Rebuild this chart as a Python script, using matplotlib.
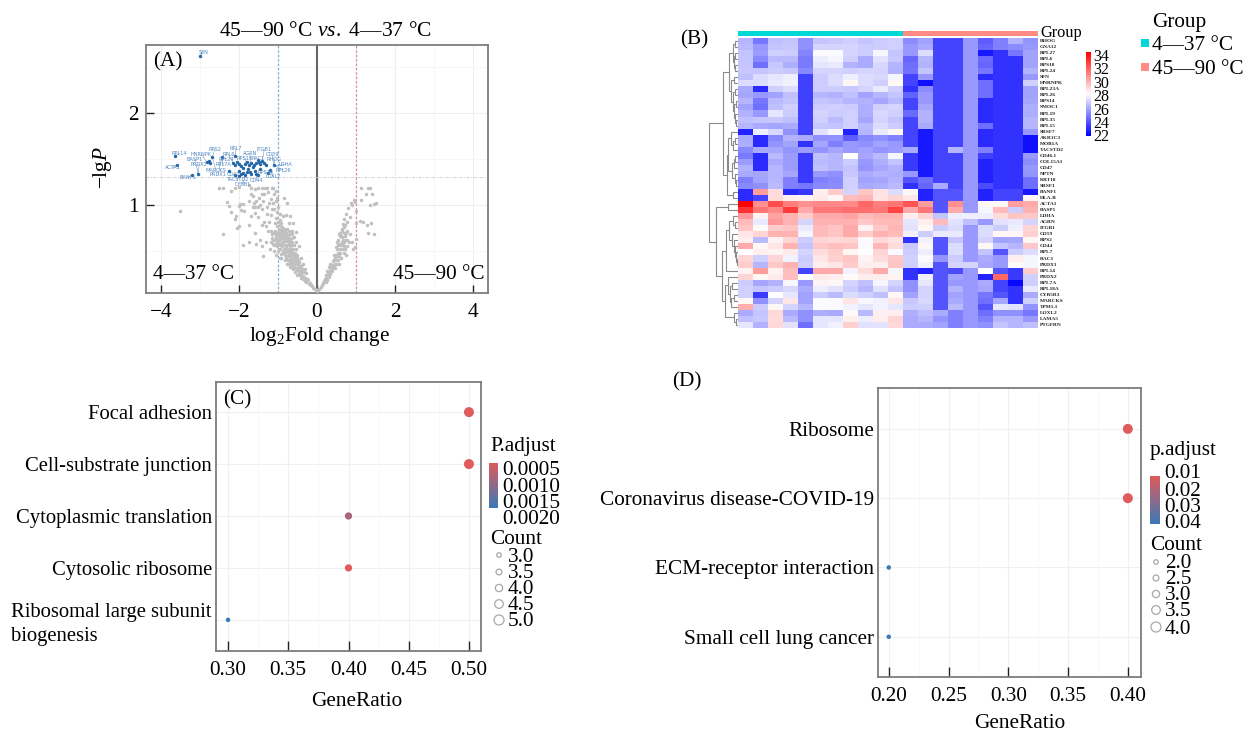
import numpy as np
import matplotlib
matplotlib.use("Agg")
import matplotlib.pyplot as plt
from matplotlib.colors import LinearSegmentedColormap, Normalize
from matplotlib.transforms import ScaledTranslation

# Fonts
plt.rcParams['font.family'] = ['Liberation Serif', 'DejaVu Serif']
plt.rcParams['mathtext.fontset'] = 'custom'
plt.rcParams['mathtext.rm'] = 'Liberation Serif'
plt.rcParams['mathtext.it'] = 'Liberation Serif:italic'

# Panel A data (log2 fold change, -lg P)
grey_points = [
    (0.0, 0.07), (-0.03, 0.08), (0.03, 0.08), (-0.06, 0.09), (0.06, 0.09), (-0.09, 0.1), (0.09, 0.11), (-0.12, 0.12),
    (0.12, 0.13), (-0.15, 0.13), (0.15, 0.15), (-0.18, 0.15), (0.18, 0.17), (-0.2, 0.14), (-0.22, 0.18), (0.2, 0.2),
    (-0.25, 0.19), (-0.27, 0.16), (0.24, 0.21), (0.22, 0.16), (-0.3, 0.21), (-0.32, 0.17), (0.27, 0.25), (0.26, 0.18),
    (-0.35, 0.23), (-0.37, 0.19), (0.3, 0.28), (0.32, 0.22), (-0.38, 0.27), (-0.41, 0.21), (0.33, 0.25), (0.35, 0.31),
    (-0.42, 0.3), (-0.44, 0.24), (0.37, 0.28), (0.38, 0.35), (-0.46, 0.33), (-0.47, 0.26), (0.4, 0.31), (0.42, 0.39),
    (-0.49, 0.36), (-0.51, 0.29), (0.43, 0.33), (0.45, 0.42), (-0.53, 0.39), (-0.54, 0.31), (0.46, 0.36), (0.48, 0.46),
    (-0.56, 0.42), (-0.58, 0.33), (0.5, 0.4), (0.5, 0.52), (-0.59, 0.46), (-0.61, 0.36), (0.53, 0.44), (0.53, 0.56),
    (-0.63, 0.49), (-0.64, 0.39), (0.55, 0.48), (0.55, 0.62), (-0.66, 0.52), (-0.67, 0.42), (0.58, 0.52), (0.58, 0.66),
    (-0.69, 0.55), (-0.7, 0.44), (0.6, 0.56), (0.6, 0.7), (-0.72, 0.58), (-0.73, 0.47), (0.63, 0.6), (0.63, 0.74),
    (-0.75, 0.61), (-0.76, 0.5), (0.65, 0.65), (0.66, 0.79), (-0.78, 0.64), (-0.8, 0.53), (0.68, 0.7), (0.7, 0.85),
    (-0.82, 0.67), (-0.83, 0.56), (0.72, 0.78), (0.75, 0.9), (-0.85, 0.7), (-0.86, 0.6), (0.78, 0.82), (0.8, 0.97),
    (-0.88, 0.65), (-0.9, 0.55), (0.85, 0.87), (0.88, 1.02), (-0.92, 0.7), (-0.94, 0.62), (0.9, 0.6), (0.92, 0.52),
    (-0.96, 0.66), (-0.98, 0.58), (0.98, 1.03), (1.0, 0.93), (-1.0, 0.7), (-1.02, 0.61), (0.98, 0.54), (1.0, 0.63),
    (-0.55, 0.52), (-0.6, 0.56), (-0.65, 0.6), (-0.7, 0.63), (-0.75, 0.67), (-0.8, 0.7), (-0.85, 0.74), (-0.62, 0.46),
    (-0.68, 0.5), (-0.77, 0.57), (-0.84, 0.63), (-0.5, 0.43), (-0.45, 0.38), (-0.4, 0.34), (-0.9, 0.76), (-0.95, 0.78),
    (-1.05, 0.66), (-1.08, 0.62), (-1.1, 0.7), (-1.02, 0.77), (-0.98, 0.74), (-0.92, 0.8), (-0.72, 0.72), (-0.63, 0.72),
    (-0.58, 0.65), (-0.53, 0.6), (-0.47, 0.55), (-0.42, 0.42), (-0.36, 0.36), (-0.31, 0.3), (-0.28, 0.26), (-0.78, 0.74),
    (-1.15, 0.64), (-1.2, 0.52), (-1.0, 0.5), (-0.95, 0.42), (-0.88, 0.48), (-0.78, 0.45), (-1.1, 0.56), (-0.7, 0.38),
    (-1.0, 0.82), (-1.05, 0.86), (-1.02, 0.92), (-0.96, 0.84), (-1.08, 0.8), (-0.95, 0.9), (-0.88, 0.88), (-0.8, 0.89),
    (-1.1, 0.96), (-1.18, 0.89), (-1.28, 0.9), (-1.35, 0.82), (-1.42, 0.78), (-1.3, 0.77), (-1.5, 0.87), (-1.58, 0.7),
    (-1.45, 0.62), (-1.55, 0.58), (-1.4, 0.55), (-1.3, 0.6), (-1.38, 0.45), (-1.25, 0.72), (-1.22, 0.82), (-1.75, 0.6),
    (-1.9, 0.57), (-2.05, 0.75), (-1.75, 0.78), (-2.4, 0.68), (-3.5, 0.93), (-2.1, 0.85), (-2.08, 0.88), (-2.0, 0.77),
    (-2.2, 0.92), (-2.3, 1.03), (-2.25, 0.99), (-2.0, 0.99), (-1.98, 1.01), (-1.9, 1.01), (-1.88, 0.94), (-1.95, 0.95),
    (-1.68, 0.88), (-1.6, 0.91), (-1.65, 1.1), (-1.62, 1.02), (-1.55, 1.04), (-1.5, 0.98), (-1.42, 0.96), (-1.38, 1.04),
    (-1.65, 0.98), (-1.58, 0.98), (-1.48, 1.08), (-1.45, 1.0), (-1.35, 1.12), (-1.28, 0.98), (-1.22, 1.02), (-1.18, 1.06),
    (-1.15, 0.96), (-1.12, 1.02), (-1.05, 1.04), (-1.05, 1.15), (-1.02, 1.08), (-1.1, 1.12), (-1.25, 1.14), (-1.0, 0.98),
    (-1.4, 1.12), (-1.58, 1.17), (-1.52, 1.18), (-1.42, 1.18), (-1.32, 1.18), (-1.28, 1.18), (-1.15, 1.18), (-1.12, 1.18),
    (-2.5, 1.19), (-2.42, 1.19), (-2.1, 1.18), (-2.0, 1.2), (-1.75, 1.22), (-1.68, 1.19), (-0.78, 1.02), (-0.85, 1.08),
    (-0.68, 0.88), (-0.62, 0.8), (-0.55, 0.71), (-2.2, 1.15), (-0.72, 0.8), (-0.65, 0.68), (-1.7, 1.12), (-1.75, 1.04),
    (0.95, 1.05), (0.9, 1.0), (1.12, 1.18), (1.13, 1.05), (1.25, 1.12), (1.35, 1.19), (1.3, 1.18), (1.45, 1.01),
    (1.35, 1.0), (1.42, 1.12), (1.5, 1.02), (1.1, 0.83), (1.0, 0.8), (1.18, 0.82), (1.28, 0.78), (1.3, 0.7),
    (1.38, 0.8), (1.45, 0.68), (0.72, 0.62), (0.78, 0.72), (0.85, 0.68), (0.7, 0.55), (0.78, 0.55), (0.82, 0.6),
]

# the thick part of the two arms of the V
grey_dense = [
    (-0.52, 0.24), (-0.57, 0.27), (-0.62, 0.3), (-0.66, 0.33), (-0.71, 0.36), (-0.74, 0.4), (-0.79, 0.42), (-0.83, 0.46),
    (-0.87, 0.5), (-0.92, 0.47), (-0.96, 0.52), (-0.9, 0.59), (-1.03, 0.55), (-1.06, 0.58), (-1.12, 0.62), (-1.14, 0.68),
    (-1.17, 0.72), (-1.08, 0.72), (-1.04, 0.7), (-0.99, 0.63), (-0.94, 0.67), (-0.89, 0.71), (-0.86, 0.66), (-0.81, 0.61),
    (-0.76, 0.56), (-0.71, 0.52), (-0.67, 0.47), (-0.6, 0.42), (-0.55, 0.36), (-0.5, 0.32), (-0.45, 0.28), (-0.4, 0.26),
    (-0.34, 0.27), (-0.39, 0.3), (-0.44, 0.34), (-0.48, 0.4), (-0.52, 0.46), (-0.57, 0.48), (-0.61, 0.52), (-0.64, 0.56),
    (-0.68, 0.59), (-0.73, 0.62), (-0.77, 0.61), (-0.81, 0.66), (-0.84, 0.69), (-0.88, 0.73), (-0.93, 0.73), (-0.97, 0.7),
    (-1.01, 0.67), (-1.06, 0.64), (-0.91, 0.64), (-0.83, 0.72), (-0.79, 0.68), (-0.74, 0.65), (-0.69, 0.68), (-0.64, 0.64),
    (-1.0, 0.59), (-0.95, 0.56), (-0.85, 0.52), (-0.8, 0.49), (-0.74, 0.44), (-0.69, 0.4), (-0.63, 0.36), (-0.58, 0.39),
    (-1.13, 0.58), (-1.18, 0.6), (-1.09, 0.5), (-1.04, 0.46), (-0.91, 0.42), (-0.83, 0.4), (-0.77, 0.36), (-0.7, 0.33),
    (0.22, 0.24), (0.26, 0.28), (0.3, 0.33), (0.34, 0.36), (0.38, 0.28), (0.41, 0.35), (0.44, 0.4), (0.47, 0.32),
    (0.5, 0.36), (0.54, 0.4), (0.57, 0.44), (0.6, 0.48), (0.63, 0.52), (0.66, 0.56), (0.69, 0.6), (0.72, 0.66),
    (0.68, 0.48), (0.72, 0.52), (0.75, 0.46), (0.62, 0.42), (0.56, 0.36), (0.48, 0.54), (0.52, 0.6), (0.56, 0.68),
    (0.62, 0.66), (0.65, 0.72), (0.7, 0.76), (0.74, 0.7), (0.76, 0.62), (0.66, 0.62), (0.58, 0.58), (0.44, 0.46),
]

blue_points = [
    (-3.0, 2.62), (-3.64, 1.53), (-3.59, 1.44), (-3.2, 1.33), (-3.04, 1.34), (-2.68, 1.52), (-2.83, 1.47), (-2.74, 1.46),
    (-2.77, 1.48), (-2.44, 1.52), (-2.1, 1.53), (-2.15, 1.46), (-2.1, 1.43), (-2.05, 1.47), (-2.0, 1.45), (-1.95, 1.42),
    (-1.85, 1.45), (-1.8, 1.47), (-1.75, 1.44), (-1.7, 1.46), (-1.62, 1.43), (-1.55, 1.46), (-1.5, 1.49), (-1.48, 1.47),
    (-1.45, 1.45), (-1.4, 1.48), (-1.35, 1.46), (-1.3, 1.44), (-2.0, 1.37), (-1.9, 1.35), (-1.85, 1.33), (-1.8, 1.36),
    (-1.78, 1.39), (-1.72, 1.36), (-1.6, 1.37), (-1.55, 1.34), (-1.5, 1.33), (-1.25, 1.35), (-1.1, 1.43), (-1.9, 1.4),
    (-2.25, 1.37), (-2.1, 1.33), (-1.95, 1.34), (-2.0, 1.32), (-1.7, 1.34), (-1.65, 1.41), (-1.45, 1.39), (-1.2, 1.38),
]

gene_labels = ["SFN", "RPL14", "ACTA1", "BANF1", "HNRNPK", "BASP1", "PRDX2", "RPS2", "RPL6", "RPL7", "AGRN", "ITGB1", "CD59", "RHOG",
               "LDHA", "RPL26", "RPL7A", "MARCKS", "PRDX1", "CD47", "TACSTD2", "CD44", "CYBB1", "RPS14", "LOXL2", "RPS18", "RAC1", "RPL24"]
label_x = [-2.9, -3.53, -3.7, -3.3, -2.96, -3.13, -3.02, -2.62, -2.27, -2.08, -1.72, -1.35, -1.15, -1.09,
           -0.82, -0.86, -2.4, -2.59, -2.53, -2.15, -2.04, -1.56, -1.89, -1.33, -1.12, -1.85, -1.5, -2.32]
label_y = [2.66, 1.56, 1.41, 1.3, 1.55, 1.5, 1.44, 1.605, 1.55, 1.61, 1.56, 1.605, 1.55, 1.5,
           1.44, 1.38, 1.44, 1.38, 1.33, 1.33, 1.275, 1.27, 1.22, 1.355, 1.31, 1.51, 1.51, 1.5]

# Panel B data
genes = ["RHOG", "GNA12", "RPL27", "RPL6", "RPS18", "RPL24", "SFN", "HNRNPK", "RPL23A", "RPL26", "RPS14", "SMOC1", "RPL19", "RPL35",
         "RPL15", "SRSF7", "AKR1C3", "MOB1A", "TACSTD2", "CD46.1", "COL15A1", "CD47", "NPTN", "KRT18", "SRSF1", "BANF1", "HLA-B",
         "ACTA1", "BASP1", "LDHA", "AGRN", "ITGB1", "CD59", "RPS2", "CD44", "RPL7", "RAC1", "PRDX1", "RPL14", "PRDX2", "RPL7A",
         "RPL18A", "CYB5R3", "MARCKS", "TPM1.1", "LOXL2", "LAMA5", "PTGFRN"]
heat = [
    [26.3, 24.8, 26.5, 26.6, 25.4, 26.6, 26.7, 26.9, 26.6, 26.8, 26.9, 25.3, 25.8, 23.6, 23.6, 25.6, 24.2, 25.0, 26.2, 25.5],
    [26.4, 25.6, 26.6, 26.7, 25.4, 27.0, 27.0, 27.0, 26.8, 26.8, 26.9, 25.6, 26.0, 23.6, 23.6, 25.6, 24.4, 25.0, 25.3, 25.6],
    [26.6, 25.7, 26.9, 26.8, 25.1, 27.9, 27.9, 27.0, 26.8, 27.8, 26.6, 25.6, 27.2, 23.6, 23.6, 25.6, 22.6, 23.2, 24.8, 25.8],
    [26.6, 25.2, 26.4, 26.4, 24.9, 27.6, 27.8, 26.9, 26.0, 27.3, 26.7, 24.4, 26.3, 23.6, 23.6, 25.6, 24.5, 23.2, 23.2, 25.8],
    [26.6, 24.6, 26.7, 26.1, 24.9, 27.4, 27.5, 26.2, 26.0, 27.1, 26.3, 24.6, 26.2, 23.6, 23.6, 25.6, 24.4, 23.2, 23.2, 25.8],
    [26.7, 26.6, 26.8, 26.7, 25.2, 27.0, 27.0, 26.9, 27.0, 27.0, 26.2, 24.7, 26.6, 23.6, 23.6, 25.6, 24.8, 23.2, 23.2, 26.2],
    [26.5, 27.2, 27.4, 27.6, 23.5, 26.8, 27.2, 27.6, 27.2, 27.1, 27.8, 23.6, 25.6, 23.6, 23.6, 25.6, 23.0, 23.2, 23.2, 25.6],
    [27.2, 27.2, 27.5, 27.7, 23.5, 26.8, 27.2, 28.2, 27.2, 26.9, 28.2, 23.6, 22.4, 23.6, 23.6, 25.6, 24.6, 23.2, 23.2, 26.9],
    [26.0, 23.0, 26.9, 27.2, 23.5, 26.8, 26.8, 26.7, 27.0, 27.5, 26.9, 23.2, 25.3, 23.6, 23.6, 25.6, 24.6, 23.2, 23.2, 25.8],
    [25.9, 25.6, 25.8, 26.5, 23.5, 26.3, 26.2, 26.5, 25.8, 26.3, 26.6, 24.3, 25.6, 23.6, 23.6, 25.6, 24.6, 23.2, 23.2, 25.8],
    [26.3, 24.8, 26.4, 26.6, 23.5, 26.6, 26.5, 26.3, 26.2, 25.9, 26.4, 23.6, 25.6, 23.6, 23.6, 25.6, 23.0, 23.2, 23.2, 25.9],
    [25.8, 24.6, 26.5, 26.9, 23.5, 26.8, 26.9, 26.8, 26.1, 26.9, 27.0, 23.6, 25.9, 23.6, 23.6, 25.6, 23.0, 23.2, 23.2, 26.1],
    [26.2, 25.6, 27.4, 26.8, 23.5, 27.0, 26.8, 26.9, 26.1, 27.1, 26.9, 24.5, 26.2, 23.6, 23.6, 25.6, 23.0, 23.2, 23.2, 26.1],
    [26.5, 26.6, 26.7, 26.5, 23.5, 26.9, 26.4, 26.9, 25.9, 27.0, 26.6, 23.6, 26.2, 23.6, 23.6, 25.6, 23.0, 23.2, 23.2, 26.3],
    [26.3, 26.0, 25.9, 26.0, 23.5, 26.7, 26.6, 26.9, 26.4, 27.2, 26.8, 23.6, 26.0, 23.6, 23.6, 25.6, 24.6, 23.2, 23.2, 26.3],
    [22.8, 27.6, 27.1, 25.4, 23.5, 27.3, 27.8, 22.8, 26.3, 27.5, 28.2, 23.6, 22.6, 23.6, 23.6, 25.6, 23.0, 23.2, 23.2, 25.6],
    [26.0, 23.0, 25.2, 26.2, 26.0, 25.4, 25.4, 24.2, 25.2, 25.4, 25.0, 23.6, 22.6, 23.6, 23.6, 25.6, 23.0, 23.2, 23.2, 22.4],
    [26.1, 23.0, 25.5, 25.8, 23.2, 25.9, 25.0, 25.6, 25.4, 25.8, 25.6, 23.6, 22.6, 23.6, 23.6, 25.6, 23.0, 23.2, 23.2, 22.4],
    [25.2, 26.0, 25.9, 25.5, 25.7, 25.5, 25.9, 25.6, 25.8, 25.5, 25.7, 26.0, 22.6, 23.6, 26.3, 25.6, 25.0, 23.2, 23.2, 22.4],
    [24.9, 23.0, 26.4, 25.7, 23.4, 26.5, 26.3, 28.0, 25.9, 26.4, 27.8, 23.4, 22.6, 23.6, 23.6, 25.6, 23.5, 23.2, 23.2, 25.6],
    [25.7, 23.0, 26.0, 25.7, 23.4, 26.4, 26.3, 26.8, 25.6, 26.1, 26.6, 23.4, 22.6, 23.6, 23.6, 25.6, 22.8, 23.2, 23.2, 25.3],
    [26.2, 23.0, 26.3, 25.7, 23.4, 26.5, 26.3, 26.6, 25.5, 25.9, 26.2, 23.4, 22.6, 23.6, 23.6, 25.6, 22.8, 23.2, 23.2, 25.6],
    [26.0, 25.9, 26.3, 25.9, 23.4, 25.6, 25.4, 26.7, 26.0, 26.2, 26.1, 25.6, 22.6, 23.6, 23.6, 25.6, 22.8, 23.2, 23.2, 25.5],
    [25.0, 25.8, 26.3, 25.0, 23.4, 25.0, 25.2, 26.9, 25.8, 25.9, 26.2, 24.0, 24.6, 23.6, 23.6, 25.6, 22.8, 23.2, 23.2, 24.6],
    [25.2, 25.4, 26.4, 25.0, 24.8, 25.2, 25.3, 26.9, 26.0, 26.1, 26.4, 23.2, 24.4, 26.0, 23.6, 25.6, 23.8, 23.2, 23.2, 24.6],
    [23.0, 30.3, 28.8, 23.0, 23.3, 28.4, 29.2, 27.0, 29.4, 28.7, 27.2, 28.2, 22.8, 24.0, 24.0, 25.6, 22.8, 23.6, 23.6, 22.6],
    [23.0, 23.6, 28.8, 28.4, 28.3, 28.5, 28.2, 29.5, 29.7, 28.7, 29.0, 28.6, 22.8, 24.0, 24.0, 25.6, 22.8, 23.6, 23.6, 28.2],
    [34.0, 30.6, 32.2, 31.0, 30.6, 30.8, 30.8, 30.8, 31.6, 31.0, 31.2, 32.0, 30.3, 24.0, 30.6, 25.6, 28.2, 28.2, 30.3, 30.0],
    [32.8, 31.2, 30.8, 32.6, 30.0, 31.2, 31.2, 31.4, 31.4, 31.2, 32.4, 30.0, 31.2, 24.0, 30.0, 25.6, 27.8, 29.6, 26.8, 29.8],
    [30.4, 28.3, 30.2, 29.8, 29.2, 30.0, 30.0, 30.2, 29.6, 29.8, 29.8, 28.4, 29.0, 26.6, 27.6, 27.6, 27.6, 28.8, 29.4, 29.3],
    [29.6, 27.5, 30.4, 29.8, 27.0, 29.8, 29.8, 29.8, 29.3, 29.6, 29.6, 27.4, 28.4, 29.6, 27.3, 26.5, 25.6, 27.3, 27.5, 27.0],
    [29.4, 28.1, 29.2, 29.4, 27.5, 29.6, 29.4, 30.0, 28.3, 29.3, 29.7, 27.3, 28.2, 26.8, 27.2, 25.6, 27.2, 26.8, 27.6, 29.0],
    [28.6, 29.0, 29.8, 29.8, 27.8, 29.6, 29.4, 30.0, 29.2, 29.8, 29.6, 27.7, 26.8, 27.5, 27.5, 25.6, 27.2, 28.2, 28.2, 29.1],
    [28.4, 26.4, 28.3, 29.0, 26.8, 29.0, 28.9, 29.0, 27.9, 28.9, 28.7, 23.2, 27.7, 24.0, 26.6, 25.6, 27.0, 25.8, 25.9, 28.2],
    [30.0, 28.2, 28.6, 29.8, 26.6, 29.3, 29.5, 29.4, 27.9, 29.7, 28.8, 26.7, 28.2, 24.0, 27.2, 25.6, 28.2, 26.6, 26.3, 29.3],
    [28.0, 28.4, 28.3, 28.5, 27.0, 28.8, 29.2, 28.2, 28.0, 29.0, 27.9, 26.8, 27.6, 24.0, 27.2, 25.6, 26.6, 24.0, 26.8, 27.2],
    [29.0, 26.9, 29.0, 27.7, 26.8, 28.6, 29.1, 29.4, 28.3, 28.8, 29.3, 26.9, 27.9, 25.5, 26.8, 25.6, 26.0, 25.6, 28.4, 27.8],
    [29.2, 26.3, 29.3, 29.8, 26.9, 28.4, 28.6, 29.2, 28.4, 28.4, 29.4, 26.9, 27.7, 24.0, 27.0, 27.0, 25.9, 25.6, 28.1, 27.8],
    [28.3, 30.3, 28.3, 29.5, 23.6, 30.0, 30.0, 27.7, 28.8, 30.0, 27.8, 23.2, 22.8, 24.0, 23.8, 25.6, 28.0, 24.0, 23.4, 29.2],
    [29.0, 28.2, 28.5, 29.5, 28.0, 28.5, 28.4, 28.1, 28.4, 28.4, 28.3, 23.2, 27.6, 24.0, 25.8, 25.6, 22.8, 31.6, 23.4, 26.9],
    [26.8, 25.9, 26.2, 27.8, 25.6, 28.3, 28.2, 27.0, 26.5, 27.8, 27.0, 25.4, 27.4, 24.0, 25.6, 25.6, 26.0, 23.6, 22.2, 26.9],
    [26.9, 26.6, 26.8, 27.1, 26.0, 27.6, 27.3, 26.8, 26.3, 27.3, 26.6, 25.4, 27.0, 24.0, 26.2, 25.6, 25.9, 23.6, 23.2, 27.5],
    [26.9, 23.4, 28.0, 27.4, 25.8, 26.8, 26.4, 27.2, 26.9, 26.5, 28.2, 25.8, 27.0, 24.0, 25.8, 25.6, 24.8, 24.0, 23.2, 26.0],
    [28.2, 25.4, 27.0, 28.6, 25.8, 27.9, 27.9, 28.6, 27.8, 27.7, 28.6, 26.7, 27.1, 24.0, 26.0, 25.6, 24.6, 25.9, 23.2, 26.9],
    [29.9, 26.8, 28.2, 27.0, 26.3, 27.9, 27.9, 27.7, 27.4, 27.7, 27.4, 26.8, 26.9, 24.0, 26.4, 25.6, 24.0, 27.4, 27.3, 25.5],
    [26.0, 26.6, 28.9, 26.0, 25.4, 26.1, 26.0, 28.1, 26.4, 28.4, 28.4, 26.1, 26.5, 26.0, 25.0, 25.6, 24.6, 25.4, 25.4, 24.8],
    [26.5, 26.7, 28.8, 26.4, 25.4, 27.4, 27.4, 28.4, 27.6, 28.4, 29.0, 26.0, 26.3, 25.5, 25.0, 25.6, 25.0, 26.3, 26.3, 25.6],
    [27.4, 26.2, 28.9, 27.3, 24.6, 27.4, 27.7, 29.1, 27.3, 27.3, 28.9, 26.0, 26.0, 25.8, 25.0, 25.6, 25.4, 26.6, 26.3, 26.5],
]
n_group1 = 11
n_group2 = 9

# row clustering as (height, left, right), leaves are row numbers
tree_a = (9, (5, (3, 0, 1), (4, (3, 2, 3), (3, 4, 5))),
          (7, (4, 6, 7), (5, (3, 8, 9), (4, (2, 10, 11), (3, 12, (2, 13, 14))))))
tree_b = (10, (7, 15, (5, (3, 16, 17), 18)), (6, (4, (3, 19, 20), 21), (3, 22, (2, 23, 24))))
tree_c = (11, tree_b, (5, 25, 26))
tree_d = (12, (9, (5, 29, (3, 30, 31)), (6, 32, (4, 33, (3, 34, (2, 35, (1, 36, 37)))))), 38)
tree_e = (13, (10, 39, (8, (6, 40, 41), (7, (4, 42, 43), 44))), (4, 45, (2, 46, 47)))
tree_root = (29, (15, tree_a, tree_c), (22, (10, 27, 28), (16, tree_d, tree_e)))

# Panel C and D data
c_terms = ["Focal adhesion", "Cell-substrate junction", "Cytoplasmic translation", "Cytosolic ribosome", "Ribosomal large subunit\nbiogenesis"]
c_ratio = [0.5, 0.5, 0.4, 0.4, 0.3]
c_padj = [0.0005, 0.0005, 0.0010, 0.0005, 0.0020]
c_count = [5, 5, 4, 4, 3]
c_xticks = [0.30, 0.35, 0.40, 0.45, 0.50]
c_padj_ticks = ["0.0005", "0.0010", "0.0015", "0.0020"]
c_count_ticks = ["3.0", "3.5", "4.0", "4.5", "5.0"]

d_terms = ["Ribosome", "Coronavirus disease-COVID-19", "ECM-receptor interaction", "Small cell lung cancer"]
d_ratio = [0.4, 0.4, 0.2, 0.2]
d_padj = [0.01, 0.01, 0.04, 0.04]
d_count = [4, 4, 2, 2]
d_xticks = [0.20, 0.25, 0.30, 0.35, 0.40]
d_padj_ticks = ["0.01", "0.02", "0.03", "0.04"]
d_count_ticks = ["2.0", "2.5", "3.0", "3.5", "4.0"]

W, H = 1243, 730
fig = plt.figure(figsize=(W / 100, H / 100), dpi=100)
GREY = "#7d7d7d"
FS = 15.3


def px_axes(left, top, right, bottom):
    return fig.add_axes([left / W, 1 - bottom / H, (right - left) / W, (bottom - top) / H])


def px_text(x, y, s, size=FS, ha="left", **kw):
    # 2 px lower because va=center counts the descender space
    return fig.text(x / W, 1 - (y + 2) / H, s, fontsize=size, ha=ha, va="center", **kw)


def frame(ax):
    for side in ax.spines:
        ax.spines[side].set_color(GREY)
        ax.spines[side].set_linewidth(1.3)


# Panel A
ax = px_axes(146, 45, 488, 293)
grey_x, grey_y = zip(*(grey_points + grey_dense))
blue_x, blue_y = zip(*blue_points)
ax.scatter(grey_x, grey_y, s=6.5, color="#c0c0c0", linewidths=0, zorder=3)
ax.scatter(blue_x, blue_y, s=6, color="#2466a8", linewidths=0, zorder=4)
for i in range(len(gene_labels)):
    # connect each label to the closest point
    dist = [(label_x[i] - p[0]) ** 2 + (label_y[i] - p[1]) ** 2 for p in blue_points]
    p = blue_points[int(np.argmin(dist))]
    ax.plot([label_x[i], p[0]], [label_y[i], p[1]], color="#6f9cc8", lw=0.4, zorder=3)
    ax.text(label_x[i], label_y[i], gene_labels[i], fontsize=3.6, color="#4f86bd", ha="center", va="center",
            family="DejaVu Sans", zorder=5)
ax.axvline(0, color="#666666", lw=1.5, zorder=2)
ax.axvline(-1, color="#86aecb", lw=0.9, ls=(0, (2, 1.5)), zorder=2)
ax.axvline(1, color="#d98c9a", lw=0.9, ls=(0, (2, 1.5)), zorder=2)
ax.axhline(1.3, color="#cfcfcf", lw=0.7, ls=(0, (3, 1.5, 1, 1.5)), zorder=2)
ax.set_xlim(-4.38, 4.38)
ax.set_ylim(0.043, 2.74)
ax.set_xticks([-4, -2, 0, 2, 4])
ax.set_xticklabels(["−4", "−2", "0", "2", "4"])
ax.set_yticks([1, 2])
ax.set_yticks([0.5, 1.5, 2.5], minor=True)
ax.set_xticks([-3, -1, 1, 3], minor=True)
ax.grid(True, which="major", color="#eeeeee", lw=0.8)
ax.grid(True, which="minor", color="#f6f6f6", lw=0.6)
ax.set_axisbelow(True)
ax.tick_params(axis="both", which="major", direction="in", length=6, width=1, labelsize=FS, color="#222222", pad=7)
ax.tick_params(axis="y", which="major", pad=5)
ax.tick_params(axis="both", which="minor", length=0)
frame(ax)
px_text(325, 30, "45—90 °C $\\mathit{vs.}$ 4—37 °C", size=15.5, ha="center")
px_text(320, 335, "log$_2$Fold change", ha="center")
px_text(103, 166, "$-$lg$\\mathit{P}$", ha="center", rotation=90)
px_text(153, 60, "(A)")
px_text(153, 273, "4—37 °C")
px_text(393, 273, "45—90 °C")

# Panel B
heat_cmap = LinearSegmentedColormap.from_list("bwr_heat", ["#0000ff", "#ffffff", "#ff0000"])
heat = np.array(heat)
ax = px_axes(738.3, 38, 1038, 328)
ax.pcolormesh(heat, cmap=heat_cmap, vmin=22, vmax=34)
ax.set_ylim(len(genes), 0)
ax.axis("off")
for i, gene in enumerate(genes):
    px_text(1040, 36 + (i + 0.5) * 290 / len(genes), gene, size=3.9, weight="bold", color="#222222")

ax = px_axes(738.3, 30.7, 1038, 36)
ax.barh([0], [n_group1], color="#00d8d8", height=1)
ax.barh([0], [n_group2], left=[n_group1], color="#ff8c84", height=1)
ax.set_xlim(0, n_group1 + n_group2)
ax.set_ylim(-0.5, 0.5)
ax.axis("off")
px_text(1040, 31, "Group", size=11.8)

ax = px_axes(706, 38, 738.3, 328)


def draw_tree(node):
    # returns (row position, height) of a node
    if not isinstance(node, tuple):
        return node + 0.5, 0
    y1, h1 = draw_tree(node[1])
    y2, h2 = draw_tree(node[2])
    ax.plot([h1, node[0], node[0], h2], [y1, y1, y2, y2], color="#8a8a8a", lw=0.8, solid_joinstyle="miter")
    return (y1 + y2) / 2, node[0]


draw_tree(tree_root)
ax.set_xlim(32.3, 0)
ax.set_ylim(len(genes), 0)
ax.axis("off")

cb = px_axes(1086, 52, 1091, 136)
cb.imshow(np.linspace(34, 22, 200).reshape(-1, 1), cmap=heat_cmap, vmin=22, vmax=34, aspect="auto")
cb.axis("off")
for i, lab in enumerate(["34", "32", "30", "28", "26", "24", "22"]):
    px_text(1093, 55 + i * 13.4, lab, size=11.5)

px_text(680, 38, "(B)")
px_text(1152, 21, "Group")
legend_ax = px_axes(0, 0, W, H)
legend_ax.set_xlim(0, W)
legend_ax.set_ylim(H, 0)
legend_ax.axis("off")
legend_ax.patch.set_alpha(0)
legend_ax.add_patch(plt.Rectangle((1141, 39), 8, 8, color="#00d8d8", lw=0))
legend_ax.add_patch(plt.Rectangle((1141, 63), 8, 8, color="#ff8c84", lw=0))
px_text(1152, 43, "4—37 °C")
px_text(1152, 67, "45—90 °C")

# Panels C and D
dot_cmap = LinearSegmentedColormap.from_list("padj", ["#e05b5b", "#3a7ab8"])


def dot_panel(box, xlim, ylim, terms, ratio, padj, count, xticks, count_range, padj_range, term_size):
    ax = px_axes(*box)
    ypos = np.arange(len(terms), 0, -1)
    diam = np.interp(count, count_range, [4.5, 10])
    ax.scatter(ratio, ypos, s=(diam * 0.72) ** 2, c=padj, cmap=dot_cmap,
               norm=Normalize(*padj_range), linewidths=0, zorder=3)
    ax.set_xlim(*xlim)
    ax.set_ylim(*ylim)
    ax.set_xticks(xticks)
    ax.set_xticklabels(["%.2f" % t for t in xticks])
    ax.set_xticks([(a + b) / 2 for a, b in zip(xticks[:-1], xticks[1:])], minor=True)
    ax.set_yticks(ypos)
    ax.set_yticklabels(terms, fontsize=term_size, linespacing=1.3)
    for lab in ax.get_yticklabels():
        lab.set_multialignment("left")
        # two line label sits lower than its row, the others a bit higher
        shift = -6 if "\n" in lab.get_text() else 2
        lab.set_transform(lab.get_transform() + ScaledTranslation(0, shift / 100, fig.dpi_scale_trans))
    ax.grid(True, which="major", color="#f0f0f0", lw=0.8)
    ax.grid(True, which="minor", axis="x", color="#f6f6f6", lw=0.6)
    ax.set_axisbelow(True)
    ax.tick_params(axis="x", which="major", direction="in", length=7, width=1, labelsize=FS, color="#222222", pad=7)
    ax.tick_params(axis="y", length=0, pad=3)
    ax.tick_params(which="minor", length=0)
    frame(ax)
    return ax


def dot_legend(title, title_y, x, bar_box, padj_labels, padj_y, count_y, count_labels, circle_y, label_x0, circle_x, d0, d1):
    px_text(x, title_y, title)
    bar = px_axes(*bar_box)
    bar.imshow(np.linspace(0, 1, 100).reshape(-1, 1), cmap=dot_cmap, aspect="auto")
    bar.axis("off")
    for lab, y in zip(padj_labels, padj_y):
        px_text(bar_box[2] + 4, y, lab)
    px_text(x, count_y, "Count")
    sizes = np.linspace(d0, d1, len(count_labels))
    legend_ax.scatter([circle_x] * len(circle_y), circle_y, s=(sizes * 0.72) ** 2, facecolors="none",
                      edgecolors="#a8a8a8", linewidths=0.9)
    for lab, y in zip(count_labels, circle_y):
        px_text(label_x0, y, lab)


dot_panel((216, 382, 481, 651), (0.29, 0.51), (0.4, 5.58), c_terms, c_ratio, c_padj, c_count, c_xticks,
          [3, 5], [0.0005, 0.0020], 14.9)
dot_legend("P.adjust", 444, 490, (489, 463, 498, 508), c_padj_ticks, [469, 486, 502, 517], 537,
           c_count_ticks, [555, 572, 588, 604, 620], 508, 499, 4.5, 10)
px_text(223, 398, "(C)")
px_text(357, 699, "GeneRatio", ha="center")

dot_panel((878, 388, 1141, 677), (0.191, 0.411), (0.42, 4.59), d_terms, d_ratio, d_padj, d_count, d_xticks,
          [2, 4], [0.01, 0.04], FS)
dot_legend("p.adjust", 448, 1150, (1150, 476, 1160, 524), d_padj_ticks, [472, 490, 506, 522], 543,
           d_count_ticks, [562, 578, 594, 610, 627], 1165, 1156, 4.5, 10)
px_text(672, 380, "(D)")
px_text(1020, 721, "GeneRatio", ha="center")

fig.savefig("out.png", dpi=100)
